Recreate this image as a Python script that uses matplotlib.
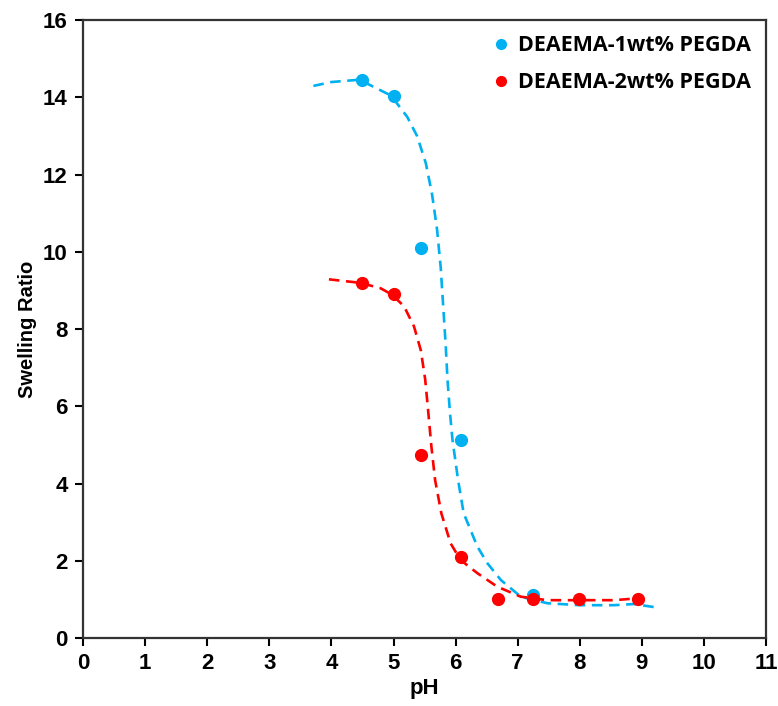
import matplotlib.pyplot as plt
from matplotlib.lines import Line2D

# measured points
ph_1wt = [4.5, 5.0, 5.45, 6.08, 7.25]
sr_1wt = [14.46, 14.05, 10.1, 5.13, 1.12]
ph_2wt = [4.5, 5.0, 5.44, 6.08, 6.68, 7.25, 7.98, 8.94]
sr_2wt = [9.2, 8.9, 4.74, 2.1, 1.0, 1.0, 1.0, 1.0]

# dashed fit curves
fit_ph_1wt = [3.71, 4.0, 4.45, 4.96, 5.22, 5.38, 5.52, 5.62, 5.70, 5.76, 5.80, 5.84,
              5.87, 5.91, 5.95, 6.04, 6.13, 6.35, 6.51, 6.73, 7.05, 7.48, 8.0, 8.55, 8.87, 9.2]
fit_sr_1wt = [14.3, 14.4, 14.46, 14.05, 13.5, 13.0, 12.3, 11.5, 10.6, 9.6, 8.6, 7.6,
              6.68, 5.82, 5.13, 4.09, 3.23, 2.37, 1.94, 1.5, 1.07, 0.9, 0.85, 0.85, 0.88, 0.8]
fit_ph_2wt = [3.96, 4.46, 4.79, 4.98, 5.17, 5.33, 5.44, 5.51, 5.56, 5.61, 5.67, 5.77,
              5.92, 6.08, 6.35, 6.67, 7.05, 7.48, 8.0, 8.55, 8.95]
fit_sr_2wt = [9.29, 9.2, 9.06, 8.89, 8.59, 8.07, 7.45, 6.7, 5.85, 4.96, 4.09, 3.23,
              2.45, 2.02, 1.68, 1.33, 1.07, 0.98, 0.98, 0.98, 1.03]

labels = ["DEAEMA-1wt% PEGDA", "DEAEMA-2wt% PEGDA"]
blue = "#00B0F0"
red = "#FF0000"

plt.rcParams["font.family"] = ["Liberation Sans", "DejaVu Sans"]

fig = plt.figure(figsize=(7.78, 7.06), dpi=100)
ax = fig.add_axes([0.1067, 0.0963, 0.878, 0.875])

ax.plot(fit_ph_1wt, fit_sr_1wt, "--", color=blue, lw=1.9, dashes=(4, 2.5))
ax.plot(fit_ph_2wt, fit_sr_2wt, "--", color=red, lw=1.9, dashes=(4, 2.5))
ax.plot(ph_1wt, sr_1wt, "o", color=blue, ms=8.5, label=labels[0])
ax.plot(ph_2wt, sr_2wt, "o", color=red, ms=8.5, label=labels[1])

ax.set_xlim(0, 11)
ax.set_ylim(0, 16)
ax.set_xticks(range(0, 12))
ax.set_yticks(range(0, 17, 2))
ax.tick_params(direction="out", length=6, width=1.5, labelsize=16, pad=5)
for lab in ax.get_xticklabels() + ax.get_yticklabels():
    lab.set_fontweight("bold")
for sp in ax.spines.values():
    sp.set_linewidth(1.6)
    sp.set_color("#333333")

ax.set_xlabel("pH", fontsize=16, fontweight="bold", labelpad=3)
ax.set_ylabel("Swelling Ratio", fontsize=14.5, fontweight="bold", labelpad=4)

handles = [Line2D([], [], ls="", marker="o", color=blue, ms=7),
           Line2D([], [], ls="", marker="o", color=red, ms=7)]
ax.legend(handles, labels, loc="upper right", frameon=False, handletextpad=0.3,
          handlelength=1.0, labelspacing=0.75, borderaxespad=0.3,
          prop={"family": ["Open Sans", "DejaVu Sans"], "weight": "bold", "size": 15.5})

fig.savefig("out.png", dpi=100)
